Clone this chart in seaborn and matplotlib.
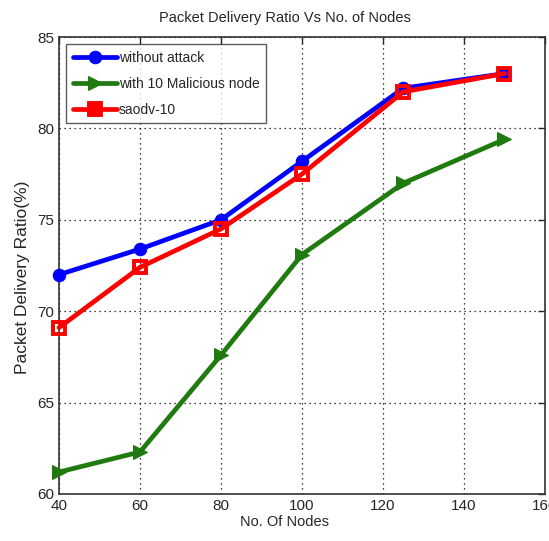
import matplotlib
matplotlib.use("Agg")
import matplotlib.pyplot as plt
import seaborn as sns
import pandas as pd

nodes = [40, 60, 80, 100, 125, 150]
without_attack = [72.0, 73.4, 75.0, 78.2, 82.2, 83.0]
malicious_10 = [61.2, 62.3, 67.6, 73.1, 77.0, 79.4]
saodv_10 = [69.1, 72.4, 74.5, 77.5, 82.0, 83.0]
series_names = ["without attack", "with 10 Malicious node", "saodv-10"]

sns.set_style("white")
plt.rcParams['font.family'] = ['Liberation Sans', 'DejaVu Sans']

fig = plt.figure(figsize=(5.49, 5.41), dpi=100)
ax = fig.add_axes([0.1075, 0.0869, 0.8852, 0.8447])

styles = [
    dict(color="#0000ff", marker="o", ms=9, mfc="#0000ff", mec="#0000ff"),
    dict(color="#1f7a0f", marker=">", ms=10, mfc="#1f7a0f", mec="#1f7a0f"),
    dict(color="#ff0000", marker="s", ms=9, mfc="none", mec="#ff0000", mew=2.8),
]
vals = [without_attack, malicious_10, saodv_10]
for name, v, st in zip(series_names, vals, styles):
    df = pd.DataFrame({"x": nodes, "y": v})
    sns.lineplot(data=df, x="x", y="y", ax=ax, linewidth=3.4, label=name,
                 clip_on=False, zorder=3, **st)

ax.set_xlim(40, 160)
ax.set_ylim(60, 85)
ax.set_xticks([40, 60, 80, 100, 120, 140, 160])
ax.set_yticks([60, 65, 70, 75, 80, 85])
ax.grid(True, linestyle=(0, (1, 3)), color="black", linewidth=0.9)
ax.tick_params(direction="in", top=True, right=True, length=5, labelsize=11, width=1)
for s in ax.spines.values():
    s.set_color("#333333")
    s.set_linewidth(1.2)

ax.set_title("Packet Delivery Ratio Vs No. of Nodes", fontsize=10.5, x=0.465, pad=11)
ax.set_xlabel("No. Of Nodes", fontsize=10.5, labelpad=2)
ax.set_ylabel("Packet Delivery Ratio(%)", fontsize=12.5, labelpad=6)
ax.yaxis.set_label_coords(-0.06, 0.475)
ax.xaxis.set_label_coords(0.465, -0.045)

leg = ax.legend(loc="upper left", fontsize=10, frameon=True, fancybox=False,
                edgecolor="#333333", handlelength=3.2, handletextpad=0.1,
                borderaxespad=0.5, labelspacing=0.85, borderpad=0.5)
leg.get_frame().set_linewidth(1.0)
leg.set_zorder(5)
for h in leg.legend_handles:
    if h.get_marker() == "s":
        h.set_markerfacecolor("#ff0000")

fig.savefig("out.png", dpi=100, facecolor="white")
